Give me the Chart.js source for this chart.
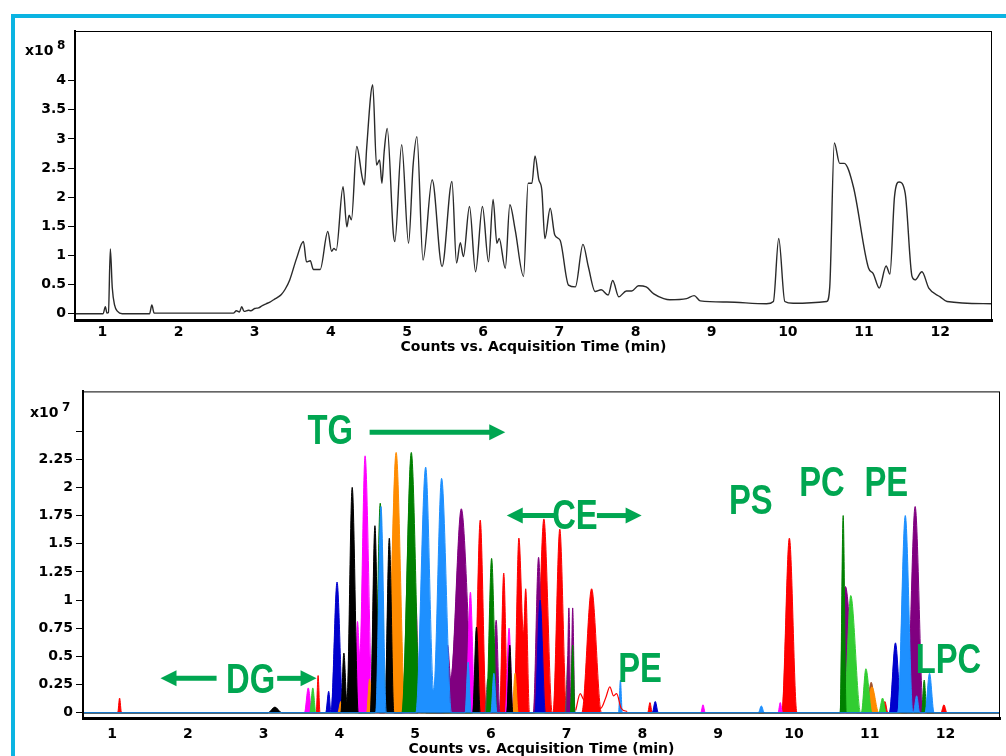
<!DOCTYPE html>
<html>
<head>
<meta charset="utf-8">
<script src="https://cdn.jsdelivr.net/npm/chart.js@4.4.0/dist/chart.umd.min.js"></script>
<style>
  body { margin: 0; background: #fff; width: 1006px; height: 756px; overflow: hidden; position: relative; }
  #ticChart { position: absolute; left: 0; top: 0; }
  #eicChart { position: absolute; left: 0; top: 380px; }
  .cyan { position: absolute; background: #0bb4e2; }
</style>
</head>
<body>
<canvas id="ticChart" width="1006" height="360"></canvas>
<canvas id="eicChart" width="1006" height="378"></canvas>
<div class="cyan" style="left:11px;top:14px;width:995px;height:4px"></div>
<div class="cyan" style="left:11px;top:14px;width:4px;height:742px"></div>
<script>
// ---- top: total ion chromatogram (x10^8 counts) ----
const ticTime = [0.63, 0.98, 1.01, 1.04, 1.06, 1.08, 1.105, 1.13, 1.16, 1.2, 1.26, 1.62, 1.65, 1.68, 2.72,
  2.76, 2.8, 2.83, 2.86, 2.92, 2.95, 3.0, 3.05, 3.1, 3.15, 3.2, 3.25, 3.3, 3.35, 3.4, 3.46, 3.55, 3.64,
  3.68, 3.73, 3.77, 3.86, 3.96, 4.01, 4.04, 4.07, 4.16, 4.21, 4.24, 4.27, 4.34, 4.41, 4.44, 4.47, 4.55,
  4.6, 4.64, 4.67, 4.7, 4.74, 4.82, 4.84, 4.93, 5.02, 5.08, 5.13, 5.21, 5.33, 5.46, 5.59, 5.65, 5.7,
  5.74, 5.82, 5.9, 5.99, 6.07, 6.13, 6.18, 6.21, 6.29, 6.35, 6.42, 6.53, 6.59, 6.64, 6.68, 6.73, 6.77,
  6.81, 6.88, 6.94, 7.01, 7.12, 7.21, 7.31, 7.38, 7.47, 7.55, 7.64, 7.7, 7.78, 7.88, 7.95, 8.04, 8.14,
  8.24, 8.37, 8.45, 8.67, 8.77, 8.85, 9.2, 9.72, 9.81, 9.88, 9.96, 10.07, 10.51, 10.55, 10.61, 10.68,
  10.74, 10.86, 11.06, 11.12, 11.2, 11.29, 11.34, 11.4, 11.46, 11.54, 11.63, 11.67, 11.76, 11.85, 12.0,
  12.09, 12.68];
const ticCounts = [0, 0, 0, 0.12, 0.01, 0.02, 1.11, 0.45, 0.15, 0.04, 0, 0, 0.15, 0.01, 0.01,
  0.05, 0.03, 0.12, 0.04, 0.06, 0.05, 0.09, 0.1, 0.14, 0.17, 0.2, 0.24, 0.28, 0.33, 0.42, 0.58, 0.95, 1.24,
  0.89, 0.91, 0.76, 0.76, 1.41, 1.07, 1.12, 1.09, 2.18, 1.49, 1.69, 1.61, 2.87, 2.35, 2.21, 2.84, 3.93,
  2.55, 2.64, 2.24, 2.78, 3.18, 1.38, 1.24, 2.9, 1.21, 2.55, 3.04, 0.92, 2.3, 0.81, 2.27, 0.87, 1.22,
  0.98, 1.84, 0.72, 1.84, 0.89, 1.96, 1.21, 1.29, 0.78, 1.87, 1.44, 0.64, 2.24, 2.24, 2.71, 2.3, 2.12,
  1.29, 1.81, 1.35, 1.26, 0.49, 0.46, 1.19, 0.81, 0.38, 0.41, 0.32, 0.57, 0.29, 0.39, 0.39, 0.48, 0.46,
  0.34, 0.26, 0.24, 0.26, 0.31, 0.22, 0.2, 0.17, 0.21, 1.29, 0.21, 0.18, 0.21, 0.46, 2.93, 2.58,
  2.58, 2.18, 0.78, 0.69, 0.44, 0.82, 0.68, 2.01, 2.26, 2.07, 0.64, 0.58, 0.72, 0.44, 0.29,
  0.21, 0.17];
const ticYTicks = [0, 0.5, 1, 1.5, 2, 2.5, 3, 3.5, 4];
const timeTicks = [1, 2, 3, 4, 5, 6, 7, 8, 9, 10, 11, 12];

// ---- bottom: extracted ion chromatograms (x10^7 counts), [time, counts] ----
const eicDodger = [[4.48,0],[4.55,1.83],[4.62,0],[5.01,0],[5.14,2.18],[5.245,0.2],[5.35,2.08],[5.48,0],
  [5.66,0],[5.7,0.45],[5.74,0],[6.0,0],[6.04,0.35],[6.08,0],
  [7.685,0],[7.71,0.29],[7.735,0],[9.53,0],[9.57,0.06],[9.61,0],[11.37,0],[11.47,1.75],[11.57,0],
  [11.575,0],[11.62,0.15],[11.66,0],[11.73,0],[11.79,0.35],[11.85,0]];
const eicBlack = [[3.06,0],[3.15,0.05],[3.24,0],[4.02,0],[4.06,0.53],[4.1,0.1],[4.17,2.0],[4.25,0],
  [4.41,0],[4.47,1.66],[4.53,0],[4.6,0],[4.66,1.55],[4.72,0],[5.04,0],[5.09,0.7],[5.14,0],
  [5.76,0],[5.81,0.76],[5.86,0],[6.21,0],[6.25,0.6],[6.29,0]];
const eicGreen = [[4.47,0],[4.54,1.86],[4.61,0],[4.83,0],[4.95,2.31],[5.07,0],[5.94,0],[6.01,1.37],[6.08,0],
  [7.05,0],[7.08,0.6],[7.11,0],[10.61,0],[10.65,1.75],[10.69,0],[11.685,0],[11.72,0.29],[11.755,0]];
const eicLime = [[3.61,0],[3.65,0.22],[3.69,0],[10.66,0],[10.75,1.04],[10.88,0],[10.89,0],[10.95,0.39],
  [11.03,0],[11.12,0],[11.17,0.13],[11.22,0]];
const eicOrange = [[3.98,0],[4.02,0.1],[4.06,0],[4.36,0],[4.4,0.3],[4.44,0],[4.63,0],[4.75,2.31],[4.87,0],
  [5.28,0],[5.32,0.25],[5.36,0],[6.28,0],[6.32,0.35],[6.36,0],
  [10.94,0],[11.03,0.23],[11.12,0],[11.465,0],[11.51,0.43],[11.555,0]];
const eicMagenta = [[3.54,0],[3.59,0.22],[3.64,0],[4.2,0],[4.24,0.81],[4.27,0.5],[4.34,2.28],[4.44,0],
  [4.96,0],[5.01,0.97],[5.06,0],[5.67,0],[5.73,1.07],[5.79,0],[6.19,0],[6.24,0.75],[6.29,0],
  [8.77,0],[8.8,0.07],[8.83,0],[9.79,0],[9.82,0.09],[9.85,0],[10.75,0],[10.8,0.48],[10.85,0]];
const eicBlue = [[3.82,0],[3.86,0.19],[3.89,0],[3.89,0],[3.97,1.16],[4.05,0],[6.58,0],[6.65,1.0],[6.72,0],
  [8.13,0],[8.17,0.1],[8.21,0],[11.26,0],[11.34,0.62],[11.42,0]];
const eicPurple = [[5.39,0],[5.43,0.6],[5.47,0.3],[5.61,1.81],[5.78,0],[6.02,0],[6.07,0.82],[6.12,0],
  [6.56,0],[6.63,1.38],[6.7,0],
  [7.0,0],[7.03,0.93],[7.055,0.1],[7.08,0.93],[7.11,0],[10.63,0],[10.68,1.12],[10.78,0.35],[10.83,0],
  [11.49,0],[11.6,1.83],[11.71,0]];
const eicBrown = [[4.3,0],[4.35,0.15],[4.4,0],[4.8,0],[4.86,0.2],[4.92,0],[5.45,0],[5.5,0.15],[5.55,0],
  [10.95,0],[11.02,0.27],[11.09,0]];
const eicGray = [[4.86,0],[4.9,0.6],[4.94,0],[5.92,0],[5.96,0.3],[6.0,0],[6.98,0],[7.02,0.5],[7.05,0]];
const eicRed = [[1.075,0],[1.1,0.13],[1.125,0],[3.695,0],[3.72,0.33],[3.745,0],[4.13,0],[4.17,1.06],[4.21,0],
  [5.11,0],[5.15,1.0],[5.19,0],[5.78,0],[5.86,1.71],[5.94,0],[6.115,0],[6.17,1.24],[6.225,0],
  [6.305,0],[6.37,1.55],[6.43,0.7],[6.46,1.1],[6.51,0],[6.59,0],[6.7,1.72],[6.81,0],
  [6.82,0],[6.91,1.63],[7.0,0],[7.2,0],[7.33,1.1],[7.46,0],[8.07,0],[8.1,0.09],[8.13,0],
  [9.84,0],[9.94,1.55],[10.04,0],[11.16,0],[11.2,0.1],[11.24,0],[11.94,0],[11.98,0.07],[12.02,0]];
const redTrail = [[7.12,0.02],[7.18,0.17],[7.22,0.12],[7.45,0.04],[7.52,0.14],[7.57,0.23],[7.62,0.15],
  [7.66,0.17],[7.72,0.04],[7.8,0.01]];
const eicYTicks = [0, 0.25, 0.5, 0.75, 1, 1.25, 1.5, 1.75, 2, 2.25, 2.5];

// lipid class labels and arrows
const classLabels = ['TG', 'CE', 'PS', 'PC', 'PE', 'PE', 'LPC', 'DG'];
const classTime = [3.88, 7.11, 9.43, 10.37, 11.22, 7.97, 12.04, 2.83];
const classLevel = [2.52, 1.76, 1.90, 2.06, 2.06, 0.405, 0.49, 0.31];
const arrowFrom = [4.40, 6.85, 7.40, 2.38, 3.18];
const arrowTo = [6.19, 6.21, 7.99, 1.64, 3.70];
const arrowLevel = [2.49, 1.75, 1.75, 0.305, 0.305];

const tickFont = { family: '"DejaVu Sans", Verdana, sans-serif', size: 14, weight: 'bold' };
const green = '#00a651';

// thin box round the plot + the x10^n multiplier
const frameBox = {
  id: 'frameBox',
  afterDraw(chart, args, opts) {
    const { ctx, chartArea: a } = chart;
    ctx.save();
    ctx.strokeStyle = '#000';
    ctx.lineWidth = 1;
    ctx.strokeRect(a.left + 0.5, a.top + 0.5, a.right - a.left - 1, a.bottom - a.top);
    ctx.fillStyle = '#000';
    ctx.textBaseline = 'middle';
    ctx.font = 'bold 14px "DejaVu Sans", Verdana, sans-serif';
    ctx.fillText('x10', opts.x, opts.y);
    ctx.font = 'bold 12px "DejaVu Sans", Verdana, sans-serif';
    ctx.fillText(opts.exp, opts.x + 32, opts.y - 5);
    ctx.restore();
  }
};

const annotate = {
  id: 'annotate',
  afterDatasetsDraw(chart) {
    const { ctx, scales: { x, y } } = chart;
    ctx.save();
    ctx.fillStyle = green;
    ctx.strokeStyle = green;
    ctx.font = 'bold 42px "Liberation Sans", Arial, sans-serif';
    ctx.textAlign = 'center';
    ctx.textBaseline = 'alphabetic';
    classLabels.forEach(function(t, i) {
      ctx.save();
      ctx.translate(x.getPixelForValue(classTime[i]), y.getPixelForValue(classLevel[i]) + 15);
      ctx.scale(0.78, 1);
      ctx.fillText(t, 0, 0);
      ctx.restore();
    });
    ctx.lineWidth = 5;
    arrowFrom.forEach(function(f, i) {
      const x0 = x.getPixelForValue(f), x1 = x.getPixelForValue(arrowTo[i]);
      const py = y.getPixelForValue(arrowLevel[i]);
      const dir = x1 > x0 ? 1 : -1;
      ctx.beginPath();
      ctx.moveTo(x0, py);
      ctx.lineTo(x1 - dir * 14, py);
      ctx.stroke();
      ctx.beginPath();
      ctx.moveTo(x1, py);
      ctx.lineTo(x1 - dir * 16, py - 8);
      ctx.lineTo(x1 - dir * 16, py + 8);
      ctx.closePath();
      ctx.fill();
    });
    ctx.restore();
  }
};

function setTicks(list) {
  return function(scale) { scale.ticks = list.map(v => ({ value: v })); };
}

new Chart(document.getElementById('ticChart'), {
  type: 'line',
  data: {
    datasets: [{
      data: ticTime.map((t, i) => ({ x: t, y: ticCounts[i] })),
      borderColor: '#2a2a2a',
      borderWidth: 1.4,
      pointRadius: 0,
      fill: false,
      cubicInterpolationMode: 'monotone'
    }]
  },
  options: {
    responsive: false,
    animation: false,
    layout: { padding: { top: 31, right: 14, left: 0, bottom: 0 } },
    plugins: { legend: { display: false }, tooltip: { enabled: false }, frameBox: { x: 25, y: 51, exp: '8' } },
    scales: {
      x: {
        type: 'linear', min: 0.641, max: 12.68,
        afterBuildTicks: setTicks(timeTicks),
        afterFit: s => { s.height = 40; },
        grid: { display: false, tickLength: 0 },
        border: { color: '#000', width: 3 },
        ticks: { color: '#000', font: tickFont, padding: 4, maxRotation: 0, autoSkip: false, callback: v => String(v) },
        title: { display: true, text: 'Counts vs. Acquisition Time (min)', color: '#000', font: tickFont, padding: { top: 0, bottom: 4 } }
      },
      y: {
        type: 'linear', min: -0.108, max: 4.853,
        afterBuildTicks: setTicks(ticYTicks),
        afterFit: s => { s.width = 75; },
        grid: { drawOnChartArea: false, tickLength: 7, color: '#000' },
        border: { color: '#000', width: 2 },
        ticks: { color: '#000', font: tickFont, padding: 2, callback: v => String(v) }
      }
    }
  },
  plugins: [frameBox]
});

const eicSeries = [
  [eicDodger, '#1e90ff'], [eicBlack, '#000000'], [eicGreen, '#008000'], [eicLime, '#32cd32'],
  [eicOrange, '#ff8c00'], [eicMagenta, '#ff00ff'], [eicBlue, '#0000cd'], [eicPurple, '#800080'],
  [eicBrown, '#a0522d'], [eicGray, '#555555'], [eicRed, '#ff0000']
];
const xMin = 0.617, xMax = 12.72;

const eicDatasets = [{
  data: redTrail.map(p => ({ x: p[0], y: p[1] })),
  borderColor: '#ff0000', borderWidth: 1.2, pointRadius: 0, fill: false, cubicInterpolationMode: 'monotone'
}].concat(eicSeries.map(function(s) {
  const pts = [[xMin, 0]].concat(s[0], [[xMax, 0]]);
  return {
    data: pts.map(p => ({ x: p[0], y: p[1] })),
    borderColor: s[1],
    backgroundColor: s[1],
    borderWidth: 1,
    pointRadius: 0,
    fill: 'origin',
    cubicInterpolationMode: 'monotone'
  };
}));

new Chart(document.getElementById('eicChart'), {
  type: 'line',
  data: { datasets: eicDatasets },
  options: {
    responsive: false,
    animation: false,
    layout: { padding: { top: 11, right: 6, left: 0, bottom: 0 } },
    plugins: { legend: { display: false }, tooltip: { enabled: false }, frameBox: { x: 30, y: 33, exp: '7' } },
    scales: {
      x: {
        type: 'linear', min: xMin, max: xMax,
        afterBuildTicks: setTicks(timeTicks),
        afterFit: s => { s.height = 40; },
        grid: { display: false, tickLength: 0 },
        border: { color: '#000', width: 3 },
        ticks: { color: '#000', font: tickFont, padding: 8, maxRotation: 0, autoSkip: false, callback: v => String(v) },
        title: { display: true, text: 'Counts vs. Acquisition Time (min)', color: '#000', font: tickFont, padding: { top: 0, bottom: 0 } }
      },
      y: {
        type: 'linear', min: -0.047, max: 2.852,
        afterBuildTicks: setTicks(eicYTicks),
        afterFit: s => { s.width = 83; },
        grid: { drawOnChartArea: false, tickLength: 7, color: '#000' },
        border: { color: '#000', width: 2 },
        ticks: { color: '#000', font: tickFont, padding: 3, callback: v => (v === 2.5 ? '' : String(v)) }
      }
    }
  },
  plugins: [frameBox, annotate]
});
</script>
</body>
</html>
